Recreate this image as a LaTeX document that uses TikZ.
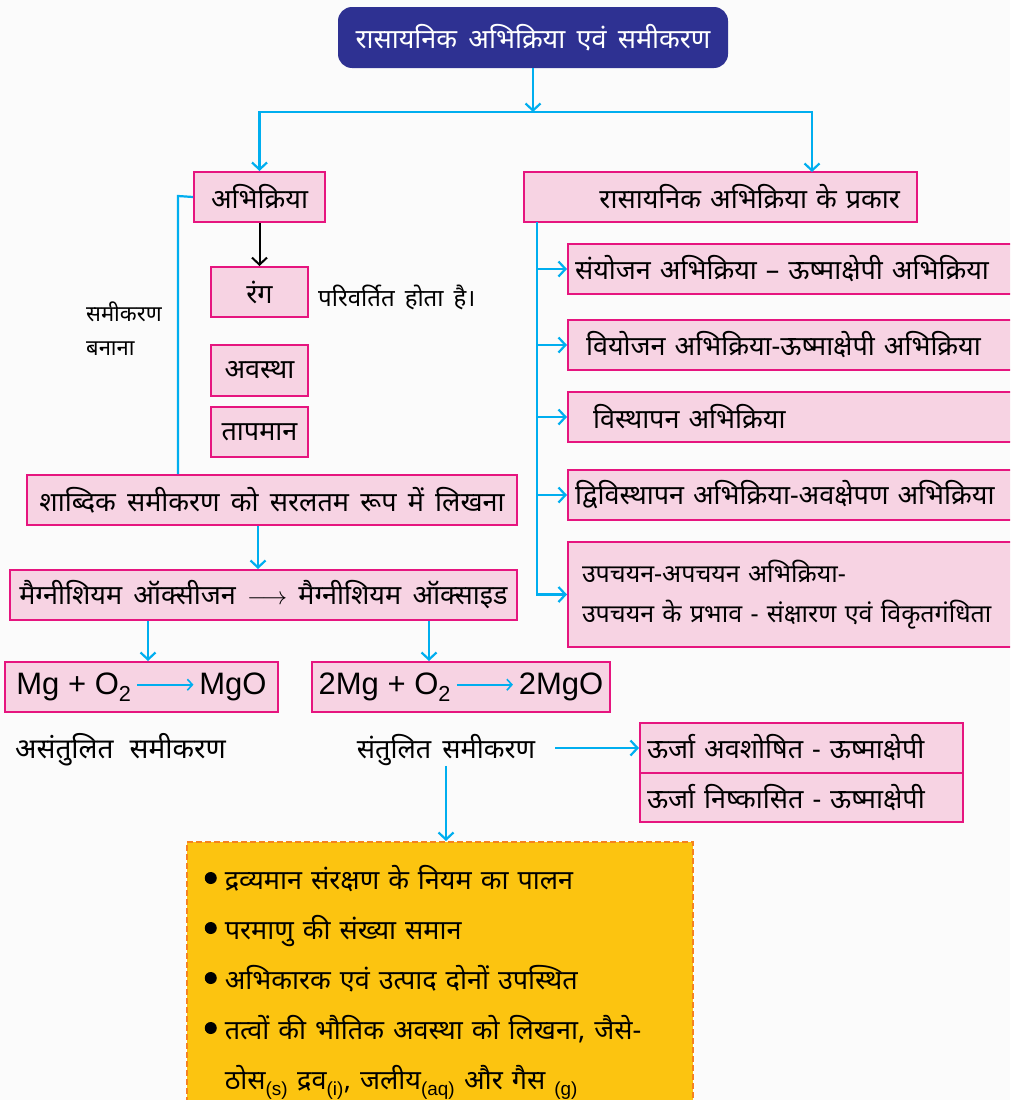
\documentclass[tikz,border=0pt]{standalone}
\usepackage{fontspec}
\setmainfont[Script=Devanagari, WordSpace=1.6]{Noto Sans}
\newfontfamily\latf{Liberation Sans}
\usetikzlibrary{arrows.meta}
\definecolor{tblue}{HTML}{2E3192}
\definecolor{pfill}{HTML}{F7D3E3}
\definecolor{pborder}{HTML}{E6157F}
\definecolor{cyanc}{HTML}{00AEEF}
\definecolor{yel}{HTML}{FCC410}
\definecolor{orangec}{HTML}{F58220}
\definecolor{bgc}{HTML}{FBFBFB}
\newcommand\eqarr{\,\tikz[baseline=-0.6ex]\draw[cyanc,line width=1.6pt,-{Straight Barb[length=5pt,width=11pt]}] (0pt,0pt) -- (56pt,0pt);\,}
\newcommand\chsub[1]{\textsubscript{\latf #1}}
\newcommand\bul{\raisebox{0.22em}{\tikz\fill (0pt,0pt) circle (6pt);}\hspace{8pt}}
\begin{document}
\begin{tikzpicture}[x=1pt,y=-1pt,
  pbox/.style={draw=pborder, fill=pfill, line width=2pt, inner sep=0pt, font=\fontsize{27}{32}\selectfont},
  lbox/.style={pbox, align=left},
  titlebox/.style={fill=tblue, rounded corners=14pt, text=white, inner sep=0pt, font=\fontsize{27}{32}\selectfont},
  lbl/.style={inner sep=0pt, font=\fontsize{27}{32}\selectfont},
  bline/.style={draw=cyanc, line width=2.2pt},
  barrow/.style={bline, -{Straight Barb[length=7pt,width=15pt]}},
  karrow/.style={draw=black, line width=2pt, -{Straight Barb[length=7pt,width=15pt]}}]
\fill[bgc] (0,0) rectangle (1010,1100);
\path[use as bounding box] (0,0) rectangle (1010,1100);
\clip (0,0) rectangle (1010,1100);

\node[titlebox, minimum width=390, minimum height=61] (title) at (533,37.5) {रासायनिक अभिक्रिया एवं समीकरण};

\node[pbox, minimum width=131, minimum height=50] (abhi) at (259.5,197) {अभिक्रिया};
\node[pbox, minimum height=50, text width=359, inner xsep=17, align=right] (prakar) at (720.5,197) {रासायनिक अभिक्रिया के प्रकार};

\node[pbox, minimum width=97, minimum height=50] (rang) at (259.5,292) {रंग};
\node[pbox, minimum width=97, minimum height=51] (avastha) at (259.5,370.5) {अवस्था};
\node[pbox, minimum width=97, minimum height=50] (tapman) at (259.5,432) {तापमान};
\node[lbl, anchor=west, font=\fontsize{24}{29}\selectfont] (rangtxt) at (318,297) {परिवर्तित होता है।};
\node[lbl, anchor=north west, align=left, font=\fontsize{22}{34}\selectfont] (sam) at (86,302) {समीकरण\\बनाना};

\node[pbox, minimum width=490, minimum height=50] (shabdik) at (272,500) {शाब्दिक समीकरण को सरलतम रूप में लिखना};
\node[pbox, minimum width=507, minimum height=50] (magn) at (263.5,595) {मैग्नीशियम ऑक्सीजन $\longrightarrow$ मैग्नीशियम ऑक्साइड};

\node[pbox, minimum width=273, minimum height=50, font=\latf\fontsize{31}{36}\selectfont] (eq1) at (141.5,687) {Mg + O\textsubscript{2}\eqarr MgO};
\node[pbox, minimum width=298, minimum height=50, font=\latf\fontsize{31}{36}\selectfont] (eq2) at (461,687) {2Mg + O\textsubscript{2}\eqarr 2MgO};

\node[lbl, anchor=west, font=\fontsize{28}{32}\selectfont] (asant) at (15,750) {असंतुलित\hspace{16pt}समीकरण};
\node[lbl] (sant) at (446,750) {संतुलित समीकरण};

\node[lbox, minimum height=50, inner xsep=7, text width=460] (r1) at (805,269) {संयोजन अभिक्रिया – ऊष्माक्षेपी अभिक्रिया};
\node[lbox, minimum height=50, inner xsep=18, text width=438] (r2) at (805,345) {वियोजन अभिक्रिया-ऊष्माक्षेपी अभिक्रिया};
\node[lbox, minimum height=50, inner xsep=25, text width=424] (r3) at (805,417) {विस्थापन अभिक्रिया};
\node[lbox, minimum height=50, inner xsep=7, text width=460] (r4) at (805,495) {द्विविस्थापन अभिक्रिया-अवक्षेपण अभिक्रिया};
\node[lbox, minimum height=105, inner xsep=14, text width=446, font=\fontsize{25}{40}\selectfont] (r5) at (805,594.5) {उपचयन-अपचयन अभिक्रिया-\\उपचयन के प्रभाव - संक्षारण एवं विकृतगंधिता};

\node[lbox, minimum height=50, inner xsep=7, text width=309] (e1) at (801.5,748) {ऊर्जा अवशोषित - ऊष्माक्षेपी};
\node[lbox, minimum height=49, inner xsep=7, text width=309] (e2) at (801.5,797.5) {ऊर्जा निष्कासित - ऊष्माक्षेपी};

\node[draw=orangec, fill=yel, dash pattern=on 6pt off 3pt, line width=1.5pt, anchor=north west, inner xsep=18, inner ysep=24, text width=470, align=left, font=\fontsize{27}{50}\selectfont] (yel) at (186,841)
{\bul द्रव्यमान संरक्षण के नियम का पालन\\
\bul परमाणु की संख्या समान\\
\bul अभिकारक एवं उत्पाद दोनों उपस्थित\\
\bul तत्वों की भौतिक अवस्था को लिखना, जैसे-\\
\phantom{\bul}ठोस\chsub{(s)} द्रव\chsub{(i)}, जलीय\chsub{(aq)} और गैस \chsub{(g)}\\[10pt]};

% connectors
\coordinate (j) at (533,112);
\coordinate (pk) at (812,172);
\draw[barrow] (title.south) -- (j);
\draw[barrow] (j) -| (abhi.north);
\draw[barrow] (j) -| (pk);
\draw[karrow] (abhi.south) -- (rang.north);
\coordinate (lk) at (178,196);
\draw[bline] (abhi.west) -- (lk) -- (lk |- shabdik.north);
\coordinate (c1) at (258,0);
\coordinate (c2) at (148,0);
\coordinate (c3) at (429,0);
\draw[barrow] (shabdik.south -| c1) -- (magn.north -| c1);
\draw[barrow] (magn.south -| c2) -- (eq1.north -| c2);
\draw[barrow] (magn.south -| c3) -- (eq2.north -| c3);
\coordinate (rt) at (537,222);
\draw[barrow] (rt) |- (r5.west);
\foreach \r in {r1,r2,r3,r4} \draw[barrow] (\r.west -| rt) -- (\r.west);
\coordinate (ae) at (555,748);
\draw[barrow] (ae) -- (e1.west);
\draw[barrow] (sant.south) -- (sant.south |- yel.north);
\end{tikzpicture}
\end{document}
